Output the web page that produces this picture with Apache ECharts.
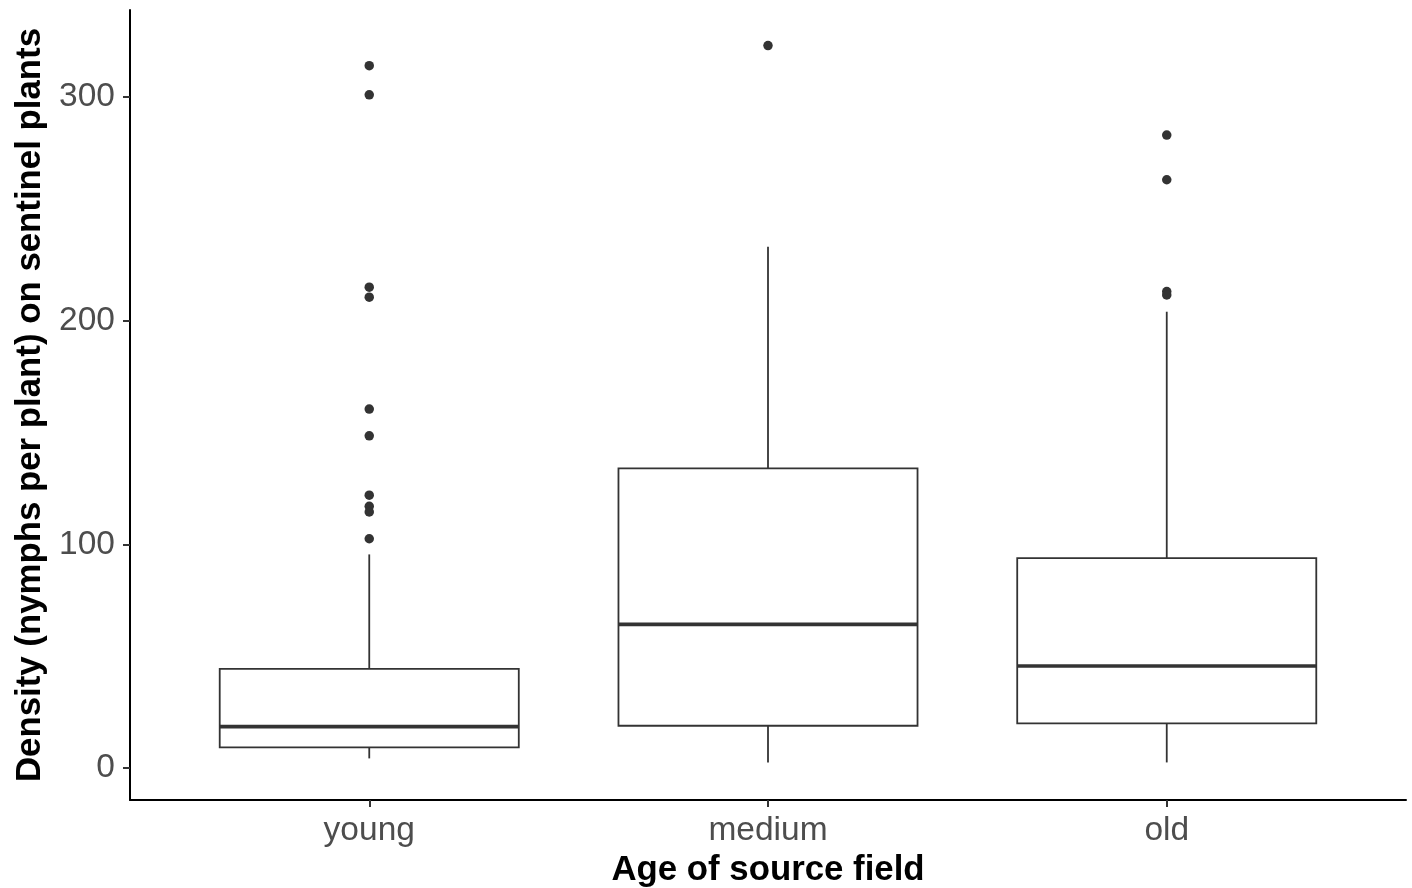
<!DOCTYPE html>
<html>
<head>
<meta charset="utf-8">
<script src="https://cdn.jsdelivr.net/npm/echarts@6/dist/echarts.min.js"></script>
<style>
html,body{margin:0;padding:0;background:#fff;}
#chart{width:1412px;height:888px;}
</style>
</head>
<body>
<div id="chart"></div>
<script>
const categories = ['young', 'medium', 'old'];
const categoryPos = [1, 2, 3];
const whiskerLow = [4.3, 2.5, 2.5];
const q1 = [9.2, 18.9, 20.0];
const median = [18.5, 64.2, 45.6];
const q3 = [44.3, 134.0, 93.8];
const whiskerHigh = [95.5, 233.0, 204.0];
const outliersYoung = [314, 301, 215, 210.5, 160.5, 148.5, 122, 117, 114.5, 102.5];
const outliersMedium = [323];
const outliersOld = [283, 263, 213, 211.5];
const yTicks = [0, 100, 200, 300];

const boxData = categoryPos.map((x, i) => [x, whiskerLow[i], q1[i], median[i], q3[i], whiskerHigh[i]]);
const outlierData = [];
[outliersYoung, outliersMedium, outliersOld].forEach((arr, i) => {
  arr.forEach(v => outlierData.push([categoryPos[i], v]));
});

const LINE = '#333333';
const BOX_HALF = 0.375;
const FONT = 'Liberation Sans, Arial, sans-serif';

const chart = echarts.init(document.getElementById('chart'));
chart.setOption({
  backgroundColor: '#ffffff',
  animation: false,
  textStyle: { fontFamily: FONT },
  grid: { left: 130, right: 6, top: 10, bottom: 88, containLabel: false, outerBoundsMode: 'none' },
  xAxis: {
    type: 'value',
    min: 0.4,
    max: 3.6,
    name: 'Age of source field',
    nameLocation: 'middle',
    nameGap: 53,
    nameTextStyle: { fontSize: 34.8, fontWeight: 'bold', color: '#000000', fontFamily: FONT },
    axisLine: { show: true, onZero: false, lineStyle: { color: '#000000', width: 2 } },
    axisTick: { show: true, length: 7, lineStyle: { color: LINE, width: 2 }, customValues: categoryPos },
    axisLabel: {
      show: true, fontSize: 33.5, color: '#4d4d4d', margin: 14,
      customValues: categoryPos,
      formatter: v => categories[Math.round(v) - 1] || ''
    },
    splitLine: { show: false }
  },
  yAxis: {
    type: 'value',
    min: -14.3,
    max: 338.9,
    name: 'Density (nymphs per plant) on sentinel plants',
    nameLocation: 'middle',
    nameGap: 82,
    nameTextStyle: { fontSize: 34.8, fontWeight: 'bold', color: '#000000', fontFamily: FONT },
    axisLine: { show: true, onZero: false, lineStyle: { color: '#000000', width: 2 } },
    axisTick: { show: true, length: 7, lineStyle: { color: LINE, width: 2 }, customValues: yTicks },
    axisLabel: { show: true, fontSize: 33.5, color: '#4d4d4d', margin: 15, customValues: yTicks },
    splitLine: { show: false }
  },
  series: [
    {
      type: 'custom',
      data: boxData,
      encode: { x: 0, y: [1, 2, 3, 4, 5] },
      renderItem: function (params, api) {
        const x = api.value(0);
        const lowP = api.coord([x, api.value(1)]);
        const q1P = api.coord([x, api.value(2)]);
        const medP = api.coord([x, api.value(3)]);
        const q3P = api.coord([x, api.value(4)]);
        const highP = api.coord([x, api.value(5)]);
        const leftP = api.coord([x - BOX_HALF, api.value(4)]);
        const rightP = api.coord([x + BOX_HALF, api.value(2)]);
        const st = { stroke: LINE, lineWidth: 1.8, fill: null };
        return {
          type: 'group',
          children: [
            { type: 'line', shape: { x1: lowP[0], y1: lowP[1], x2: q1P[0], y2: q1P[1] }, style: st },
            { type: 'line', shape: { x1: q3P[0], y1: q3P[1], x2: highP[0], y2: highP[1] }, style: st },
            { type: 'rect', shape: { x: leftP[0], y: leftP[1], width: rightP[0] - leftP[0], height: rightP[1] - leftP[1] },
              style: { fill: '#ffffff', stroke: LINE, lineWidth: 1.8 } },
            { type: 'line', shape: { x1: leftP[0], y1: medP[1], x2: rightP[0], y2: medP[1] },
              style: { stroke: LINE, lineWidth: 3.6 } }
          ]
        };
      },
      z: 2
    },
    {
      type: 'scatter',
      data: outlierData,
      symbol: 'circle',
      symbolSize: 9.5,
      itemStyle: { color: LINE, opacity: 1 },
      z: 3
    }
  ]
});
</script>
</body>
</html>
